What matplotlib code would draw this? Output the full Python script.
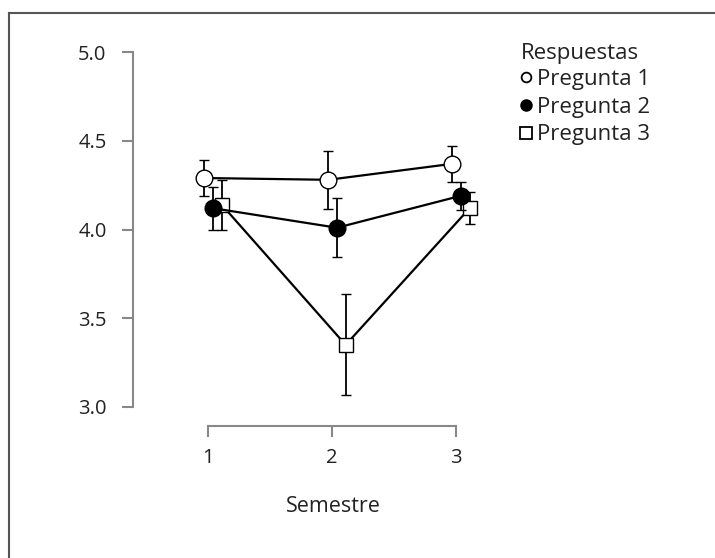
import matplotlib.pyplot as plt
from matplotlib.lines import Line2D

plt.rcParams["font.family"] = ["Open Sans", "DejaVu Sans"]

semestres = [1, 2, 3]
series = ["Pregunta 1", "Pregunta 2", "Pregunta 3"]
medias = {
    "Pregunta 1": [4.29, 4.28, 4.37],
    "Pregunta 2": [4.12, 4.01, 4.19],
    "Pregunta 3": [4.14, 3.35, 4.12],
}
errores = {
    "Pregunta 1": [0.10, 0.165, 0.10],
    "Pregunta 2": [0.12, 0.165, 0.08],
    "Pregunta 3": [0.14, 0.285, 0.09],
}
yticks = [3.0, 3.5, 4.0, 4.5, 5.0]

# style per series: dodge, marker, face, size, zorder
estilo = {
    "Pregunta 1": (-0.03, "o", "white", 12, 5),
    "Pregunta 2": (0.04, "o", "black", 12, 4),
    "Pregunta 3": (0.11, "s", "white", 10, 3),
}

fig = plt.figure(figsize=(7.15, 5.58), dpi=100)
W, H = 715, 558
ax = fig.add_axes([133 / W, (H - 426) / H, 367 / W, 386 / H])

for s in series:
    dx, mk, fc, ms, z = estilo[s]
    xs = [x + dx for x in semestres]
    ax.errorbar(xs, medias[s], yerr=errores[s], color="black", lw=1.6,
                elinewidth=1.3, capsize=3.5, capthick=1.3,
                marker=mk, markersize=ms, markerfacecolor=fc,
                markeredgecolor="black", markeredgewidth=1.0, zorder=z)

ax.set_xlim(1 - 75 / 124, 1 + 292 / 124)
ax.set_ylim(5 - 374 / 177.5, 5 + 12 / 177.5)

gris = "#888888"
texto = "#222222"
for side in ["top", "right"]:
    ax.spines[side].set_visible(False)
ax.spines["left"].set_bounds(3.0, 5.0)
ax.spines["bottom"].set_bounds(1, 3)
for side in ["left", "bottom"]:
    ax.spines[side].set_color(gris)
    ax.spines[side].set_linewidth(1.5)

ax.set_xticks(semestres)
ax.set_xticklabels([str(s) for s in semestres])
ax.set_yticks(yticks)
ax.set_yticklabels([f"{v:.1f}" for v in yticks])
ax.tick_params(axis="both", direction="out", length=8, width=1.5,
               color=gris, labelcolor=texto, labelsize=14.5)
ax.tick_params(axis="y", pad=11)
ax.tick_params(axis="x", pad=8)
ax.set_xlabel("Semestre", fontsize=15.5, color=texto, labelpad=20)
ax.xaxis.label.set_x((333 - 133) / 367)

handles = [
    Line2D([], [], ls="none", marker="o", markersize=7, markerfacecolor="white",
           markeredgecolor="black", markeredgewidth=1.3),
    Line2D([], [], ls="none", marker="o", markersize=8, markerfacecolor="black",
           markeredgecolor="black"),
    Line2D([], [], ls="none", marker="s", markersize=8, markerfacecolor="white",
           markeredgecolor="black", markeredgewidth=1.3),
]
leg = fig.legend(handles, series, title="Respuestas", loc="upper left",
                 bbox_to_anchor=(505 / W, 1 - 27 / H), frameon=False,
                 fontsize=16, title_fontsize=16, handlelength=0.5,
                 handletextpad=0.25, labelspacing=0.3, borderpad=0.2)
leg._legend_box.align = "left"
leg._legend_box.sep = 4
for t in leg.get_texts():
    t.set_color(texto)
leg.get_title().set_color(texto)

# marco de la figura (solo izquierda y arriba visibles)
fig.add_artist(Line2D([9 / W, 9 / W], [0, 1 - 13 / H], color="#555555",
                      lw=1.5, transform=fig.transFigure))
fig.add_artist(Line2D([9 / W, 1], [1 - 13 / H, 1 - 13 / H], color="#555555",
                      lw=1.5, transform=fig.transFigure))

fig.savefig("out.png", dpi=100)
